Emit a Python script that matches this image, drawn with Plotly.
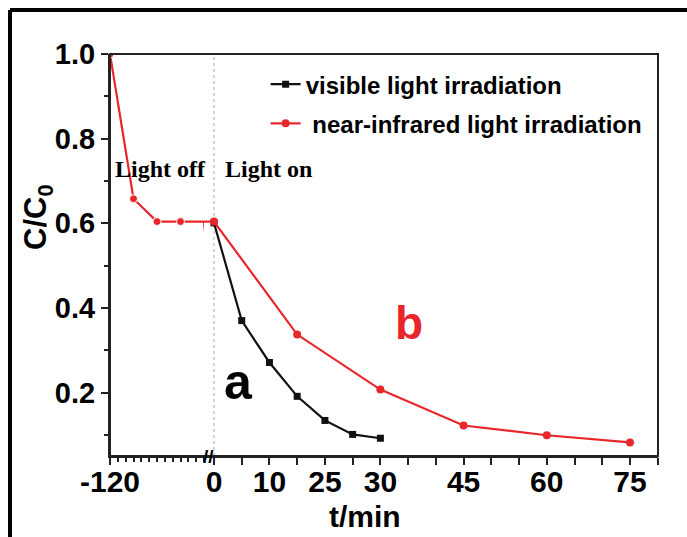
import plotly.graph_objects as go

# Photodegradation kinetics: C/C0 versus time, dark adsorption then irradiation
T_VIS = [0, 5, 10, 15, 20, 25, 30]
C_VIS = [0.601, 0.370, 0.271, 0.191, 0.134, 0.101, 0.092]

T_NIR = [-120, -90, -60, -30, 0, 15, 30, 45, 60, 75]
C_NIR = [1.0, 0.658, 0.604, 0.604, 0.604, 0.337, 0.207, 0.122, 0.099, 0.082]

DARK_TICKS = [-120]
DARK_TICK_TEXT = ["-120"]
LIGHT_TICKS = [0, 10, 20, 30, 45, 60, 75]
LIGHT_TICK_TEXT = ["0", "10", "25", "30", "45", "60", "75"]
Y_TICKS = [0.2, 0.4, 0.6, 0.8, 1.0]
Y_TICK_TEXT = ["0.2", "0.4", "0.6", "0.8", "1.0"]

RED = "#e8262b"
BLACK = "#111111"
SANS = "Liberation Sans, Arial, sans-serif"
SERIF = "Liberation Serif, Times New Roman, serif"

# plot-area geometry (pixels) used for the broken x axis
W, H = 687, 537
L, R, T, B = 110, 29, 54, 81
PW = W - L - R
PH = H - T - B
BREAK_PX = 204
split = (BREAK_PX - L) / PW

fig = go.Figure()

# near-infrared series on the dark-period axis (shows only t <= 0)
fig.add_trace(go.Scatter(
    x=T_NIR, y=C_NIR, xaxis="x", yaxis="y", mode="lines+markers",
    line=dict(color=RED, width=2.2),
    marker=dict(symbol="circle", size=[8 if t < 0 else 0 for t in T_NIR],
                color=RED, opacity=1),
    showlegend=False, legendgroup="nir", hoverinfo="x+y",
))

fig.add_trace(go.Scatter(
    x=T_VIS, y=C_VIS, xaxis="x2", yaxis="y", mode="lines+markers",
    name="visible light irradiation", legendgroup="vis",
    line=dict(color=BLACK, width=2.2),
    marker=dict(symbol="square", size=7, color=BLACK),
))

# near-infrared series on the irradiation axis (shows t >= 0)
fig.add_trace(go.Scatter(
    x=T_NIR, y=C_NIR, xaxis="x2", yaxis="y", mode="lines+markers",
    name="\u00a0near-infrared light irradiation", legendgroup="nir",
    line=dict(color=RED, width=2.2),
    marker=dict(symbol="circle", size=8, color=RED),
))

tickfont_x = dict(family=SANS, size=30, color="black", weight="bold")
tickfont_y = dict(family=SANS, size=29, color="black", weight="bold")

fig.update_layout(
    width=W, height=H,
    margin=dict(l=L, r=R, t=T, b=B),
    paper_bgcolor="white", plot_bgcolor="white",
    xaxis=dict(
        domain=[0, split], range=[-120, 0], anchor="y",
        tickmode="array", tickvals=DARK_TICKS, ticktext=DARK_TICK_TEXT,
        ticks="outside", ticklen=7, tickwidth=2, tickcolor="#222",
        minor=dict(tickmode="linear", tick0=-120, dtick=10, ticks="outside",
                   ticklen=4, tickwidth=1.5, tickcolor="#222"),
        showline=True, linecolor="#222", linewidth=2,
        showgrid=False, zeroline=False, tickfont=tickfont_x,
        ticklabelstandoff=-9,
    ),
    xaxis2=dict(
        domain=[split, 1], range=[-1.8, 80.05], anchor="y",
        tickmode="array", tickvals=LIGHT_TICKS, ticktext=LIGHT_TICK_TEXT,
        ticks="outside", ticklen=7, tickwidth=2, tickcolor="#222",
        minor=dict(tickmode="linear", tick0=0, dtick=5, ticks="outside",
                   ticklen=7, tickwidth=2, tickcolor="#222"),
        showline=True, linecolor="#222", linewidth=2,
        showgrid=False, zeroline=False, tickfont=tickfont_x,
        ticklabelstandoff=-9,
    ),
    yaxis=dict(
        domain=[0, 1], range=[0.05, 1.0], anchor="x",
        tickmode="array", tickvals=Y_TICKS, ticktext=Y_TICK_TEXT,
        ticks="outside", ticklen=7, tickwidth=2, tickcolor="#222",
        minor=dict(tickmode="linear", tick0=0, dtick=0.1, ticks="outside",
                   ticklen=4, tickwidth=2, tickcolor="#222"),
        showline=True, linecolor="#222", linewidth=2,
        showgrid=False, zeroline=False, tickfont=tickfont_y,
    ),
    legend=dict(
        x=0.284, y=0.98, xanchor="left", yanchor="top",
        bgcolor="rgba(0,0,0,0)", tracegroupgap=5, traceorder="grouped",
        font=dict(family=SANS, size=24, color="black", weight="bold"),
    ),
    showlegend=True,
)

# frame around the plot area, dotted marker at t = 0 and outer panel border
fig.add_shape(type="rect", xref="paper", yref="paper", x0=0, x1=1, y0=0, y1=1,
              line=dict(color="#222", width=2))
fig.add_shape(type="line", xref="x2", yref="paper", x0=0, x1=0, y0=0, y1=1,
              line=dict(color="#aaaaaa", width=1, dash="dot"), layer="below")
fig.add_shape(type="line", xref="paper", yref="paper",
              x0=(10 - L) / PW, x1=(10 - L) / PW, y0=-0.3, y1=(H - B - 10) / PH,
              line=dict(color="black", width=4))
fig.add_shape(type="line", xref="paper", yref="paper",
              x0=(10 - L) / PW, x1=1.2, y0=(H - B - 10) / PH, y1=(H - B - 10) / PH,
              line=dict(color="black", width=4))

annotations = [
    # axis break mark
    dict(text="//", xref="paper", yref="paper", x=(208 - L) / PW, y=0,
         xanchor="center", yanchor="middle", showarrow=False,
         font=dict(family=SANS, size=19, color="black", weight="bold")),
    dict(text="Light off", xref="x", yref="y", x=-55, y=0.729, showarrow=False,
         xanchor="center", yanchor="middle",
         font=dict(family=SERIF, size=24, color="black", weight="bold")),
    dict(text="Light on", xref="x2", yref="y", x=9.9, y=0.729, showarrow=False,
         xanchor="center", yanchor="middle",
         font=dict(family=SERIF, size=24, color="black", weight="bold")),
    dict(text="a", xref="x2", yref="y", x=4.5, y=0.225, showarrow=False,
         xanchor="center", yanchor="middle",
         font=dict(family=SANS, size=50, color="black", weight="bold")),
    dict(text="b", xref="x2", yref="y", x=35.1, y=0.365, showarrow=False,
         xanchor="center", yanchor="middle",
         font=dict(family=SANS, size=46, color=RED, weight="bold")),
    dict(text="t/min", xref="paper", yref="paper", x=(365 - L) / PW,
         y=(H - B - 516) / PH, showarrow=False,
         xanchor="center", yanchor="middle",
         font=dict(family=SANS, size=30, color="black", weight="bold")),
    dict(text="C/C<sub>0</sub>", xref="paper", yref="paper", x=(38 - L) / PW,
         y=(H - B - 218) / PH, showarrow=False, textangle=-90,
         xanchor="center", yanchor="middle",
         font=dict(family=SANS, size=31, color="black", weight="bold")),
]
fig.update_layout(annotations=annotations)

fig.write_html("out.html")
